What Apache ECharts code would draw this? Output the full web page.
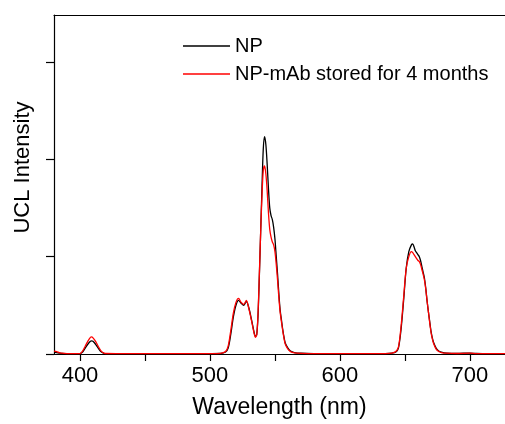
<!DOCTYPE html>
<html>
<head>
<meta charset="utf-8">
<script src="https://cdn.jsdelivr.net/npm/echarts@6/dist/echarts.min.js"></script>
<style>html,body{margin:0;padding:0;background:#fff}#c{width:505px;height:424px}</style>
</head>
<body>
<div id="c"></div>
<script>
// Wavelength (nm)
const wavelengths = [380,382,384,386,390,395,400,402,404,406,408,409,410,412,414,416,418,420,430,450,480,500,508,512,514,516,518,520,522,524,526,528,530,532,534,535,536,537,538,539,540,541,542,543,544,545,546,547,548,549,550,551,552,553,554,555,556,557,558,560,562,565,570,580,600,620,635,640,643,645,647,649,651,653,655,656,657,658,659,660,661,662,663,664,665,666,667,668,669,670,671,672,674,676,678,682,690,700,705,715,727];
// NP (black)
const npValues = [0.02,0.015,0.01,0.005,0.003,0.002,0.003,0.02,0.06,0.10,0.13,0.135,0.13,0.10,0.06,0.025,0.01,0.004,0.003,0.002,0.002,0.003,0.005,0.02,0.06,0.2,0.38,0.5,0.55,0.52,0.5,0.54,0.47,0.35,0.22,0.18,0.2,0.4,0.8,1.25,1.7,2.1,2.23,2.15,1.95,1.7,1.5,1.42,1.38,1.3,1.18,1.0,0.82,0.62,0.45,0.35,0.25,0.17,0.11,0.06,0.03,0.015,0.008,0.004,0.003,0.003,0.004,0.008,0.02,0.06,0.25,0.55,0.88,1.05,1.12,1.13,1.1,1.06,1.04,1.02,1.0,0.96,0.9,0.84,0.78,0.68,0.55,0.44,0.34,0.24,0.17,0.12,0.06,0.03,0.02,0.01,0.006,0.01,0.005,0.003,0.003];
// NP-mAb stored for 4 months (red)
const npMabValues = [0.03,0.025,0.015,0.008,0.004,0.003,0.004,0.03,0.08,0.13,0.17,0.175,0.165,0.13,0.08,0.035,0.012,0.005,0.004,0.003,0.003,0.004,0.007,0.025,0.08,0.24,0.42,0.53,0.57,0.53,0.51,0.55,0.46,0.34,0.21,0.17,0.2,0.42,0.82,1.25,1.62,1.88,1.93,1.85,1.68,1.45,1.28,1.2,1.15,1.12,1.05,0.92,0.76,0.58,0.43,0.33,0.24,0.16,0.1,0.05,0.025,0.012,0.006,0.004,0.003,0.003,0.004,0.009,0.025,0.07,0.28,0.58,0.88,1.0,1.05,1.04,1.02,1.0,0.98,0.96,0.95,0.92,0.87,0.82,0.76,0.67,0.55,0.44,0.33,0.23,0.16,0.11,0.05,0.025,0.015,0.008,0.005,0.008,0.004,0.003,0.003];
const xTicks = [400,450,500,550,600,650,700];
const xLabels = [400,500,600,700];
const yTicks = [0,1,2,3];
const seriesNames = ['NP','NP-mAb stored for 4 months'];

const FONT = '"Liberation Sans", Arial, sans-serif';
const chart = echarts.init(document.getElementById('c'), null, {renderer:'canvas'});
const pair = (vals) => wavelengths.map((w,i)=>[w, vals[i]]);
chart.setOption({
  animation:false,
  backgroundColor:'#fff',
  grid:{left:54, top:15, right:0, bottom:68},
  legend:{
    orient:'vertical', left:178, top:31, itemWidth:47, itemHeight:1.3, itemGap:8,
    icon:'rect',
    textStyle:{fontFamily:FONT, fontSize:20, color:'#000'},
    data:seriesNames
  },
  xAxis:[{
    type:'value', min:380, max:727,
    name:'Wavelength (nm)', nameLocation:'middle', nameGap:42,
    nameTextStyle:{fontFamily:FONT, fontSize:23, color:'#000'},
    axisLine:{lineStyle:{color:'#000', width:1.2}},
    axisTick:{show:true, inside:false, length:7, customValues:xTicks, lineStyle:{color:'#000', width:1.2}},
    axisLabel:{customValues:xLabels, fontFamily:FONT, fontSize:22, color:'#000', margin:11},
    splitLine:{show:false}
  },{
    type:'value', position:'top', min:380, max:727,
    axisLine:{show:true, lineStyle:{color:'#000', width:1.2}},
    axisTick:{show:false}, axisLabel:{show:false}, splitLine:{show:false}
  }],
  yAxis:{
    type:'value', min:0, max:3.48,
    name:'UCL Intensity', nameLocation:'middle', nameGap:20,
    nameTextStyle:{fontFamily:FONT, fontSize:22, color:'#000', padding:[0,0,0,34]},
    axisLine:{show:true, lineStyle:{color:'#000', width:1.2}},
    axisTick:{show:true, inside:false, length:8, customValues:yTicks, lineStyle:{color:'#000', width:1.2}},
    axisLabel:{show:false},
    splitLine:{show:false}
  },
  series:[
    {name:seriesNames[0], type:'line', data:pair(npValues), symbol:'none', smooth:0.3,
     lineStyle:{color:'#000', width:1.3}, itemStyle:{color:'#000'}},
    {name:seriesNames[1], type:'line', data:pair(npMabValues), symbol:'none', smooth:0.3,
     lineStyle:{color:'#ff0000', width:1.3}, itemStyle:{color:'#ff0000'}}
  ]
});
</script>
</body>
</html>
